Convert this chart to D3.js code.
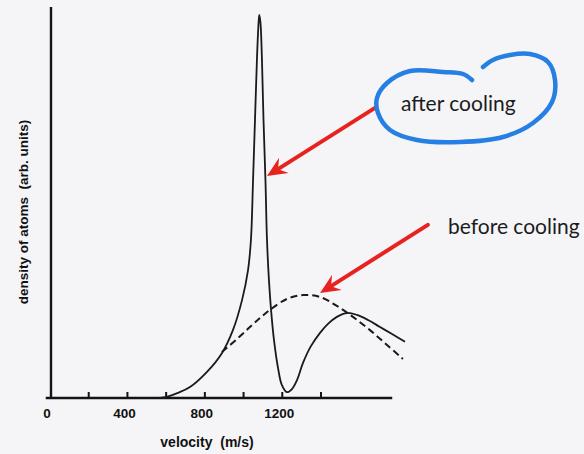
<!DOCTYPE html>
<html>
<head>
<meta charset="utf-8">
<script src="https://cdn.jsdelivr.net/npm/d3@7"></script>
<style>
  html, body { margin: 0; padding: 0; background: #f5f5f7; }
  svg { display: block; }
  text { white-space: pre; }
</style>
</head>
<body>
<svg id="chart" width="584" height="454"></svg>
<script>
// ---- data ----
const afterVelocity = [568, 604, 661, 723, 811, 888, 945, 992, 1023, 1038, 1049, 1059, 1069, 1076, 1081, 1087, 1095, 1103, 1113, 1121, 1131, 1142, 1157, 1178, 1198, 1224, 1250, 1276, 1307, 1348, 1395, 1436, 1482, 1534, 1586, 1643, 1705, 1767, 1834];
const afterDensity  = [0, 0.3, 1.3, 2.8, 6.7, 11.5, 17.4, 25.1, 32.8, 40.5, 55.9, 71.3, 86.7, 94.9, 98.2, 96.4, 86.7, 71.3, 55.9, 40.5, 30.3, 22.6, 14.9, 7.7, 3.3, 1.5, 2.3, 4.6, 9.0, 13.3, 16.7, 19.0, 20.8, 21.8, 21.3, 20.0, 18.2, 16.4, 14.4];
const beforeVelocity = [888, 961, 1033, 1085, 1136, 1224, 1307, 1395, 1482, 1565, 1653, 1741, 1823];
const beforeDensity  = [11.8, 14.9, 18.2, 20.5, 22.6, 25.4, 26.4, 25.9, 23.6, 20.8, 17.4, 13.6, 10.0];
const tickValues = [200, 400, 600, 800, 1000, 1200, 1400];
const tickLabels = [0, 400, 800, 1200];
const xTitle = "velocity  (m/s)";
const yTitle = "density of atoms  (arb. units)";
const labelAfter = "after cooling";
const labelBefore = "before cooling";

// ---- scales ----
const svg = d3.select("#chart");
const x = d3.scaleLinear().domain([0, 1400]).range([50, 321]);
const y = d3.scaleLinear().domain([0, 100]).range([398, 8]);

// ---- axes ----
const axisColor = "#141414";
const axisFont = "'Liberation Sans', Arial, Helvetica, sans-serif";
svg.append("line")
  .attr("x1", x(0) + 1).attr("x2", x(0) + 1)
  .attr("y1", y(100) - 1).attr("y2", y(0) + 1)
  .attr("stroke", axisColor).attr("stroke-width", 2.4);
svg.append("line")
  .attr("x1", x(-22)).attr("x2", x(1768))
  .attr("y1", y(0)).attr("y2", y(0))
  .attr("stroke", axisColor).attr("stroke-width", 2.6);
svg.append("g").selectAll("line").data(tickValues).join("line")
  .attr("x1", d => x(d)).attr("x2", d => x(d))
  .attr("y1", y(0)).attr("y2", y(0) - 6)
  .attr("stroke", axisColor).attr("stroke-width", 2);
svg.append("g").selectAll("text").data(tickLabels).join("text")
  .attr("x", d => x(d) - 3).attr("y", 418)
  .attr("text-anchor", "middle")
  .attr("font-family", axisFont)
  .attr("font-weight", "bold").attr("font-size", 13.5)
  .attr("fill", "#111")
  .text(d => d);
svg.append("text")
  .attr("x", 207).attr("y", 447)
  .attr("text-anchor", "middle")
  .attr("font-family", axisFont)
  .attr("font-weight", "bold").attr("font-size", 14)
  .attr("fill", "#111")
  .text(xTitle);
svg.append("text")
  .attr("transform", "translate(28,212) rotate(-90)")
  .attr("text-anchor", "middle")
  .attr("font-family", axisFont)
  .attr("font-weight", "bold").attr("font-size", 13.5)
  .attr("fill", "#111")
  .text(yTitle);

// ---- curves ----
const line = d3.line().x(d => x(d[0])).y(d => y(d[1])).curve(d3.curveCatmullRom.alpha(0.5));
svg.append("path")
  .datum(beforeVelocity.map((v, i) => [v, beforeDensity[i]]))
  .attr("d", line)
  .attr("fill", "none").attr("stroke", "#1a1a1a")
  .attr("stroke-width", 2).attr("stroke-dasharray", "7,4");
svg.append("path")
  .datum(afterVelocity.map((v, i) => [v, afterDensity[i]]))
  .attr("d", line)
  .attr("fill", "none").attr("stroke", "#1a1a1a")
  .attr("stroke-width", 1.8).attr("stroke-linejoin", "round");

// ---- annotations ----
const red = "#e8231f";
function arrow(tail, tip) {
  const x0 = x(tail[0]), y0 = y(tail[1]), x1 = x(tip[0]), y1 = y(tip[1]);
  const ang = Math.atan2(y1 - y0, x1 - x0);
  const len = 20, half = 9, notch = 13;
  const ux = Math.cos(ang), uy = Math.sin(ang), px = -uy, py = ux;
  const bx = x1 - ux * len, by = y1 - uy * len;
  const nx = x1 - ux * notch, ny = y1 - uy * notch;
  svg.append("line")
    .attr("x1", x0).attr("y1", y0).attr("x2", nx).attr("y2", ny)
    .attr("stroke", red).attr("stroke-width", 4).attr("stroke-linecap", "round");
  svg.append("path")
    .attr("d", `M${x1},${y1} L${bx + px * half},${by + py * half} L${nx},${ny} L${bx - px * half},${by - py * half} Z`)
    .attr("fill", red);
}
arrow([1679, 74.4], [1121, 56.9]);
arrow([1952, 44.4], [1395, 26.9]);

// hand-drawn loop round "after cooling" (offsets from the label start)
const ax = 401, ay = 111;
const loop = [[71, -31], [62, -37], [42, -39], [9, -40], [-14, -28], [-24, -13], [-23, 2], [-11, 19], [16, 29], [59, 31], [102, 26], [132, 12], [151, -9], [154, -31], [147, -49], [129, -57], [109, -56], [92, -51], [82, -44]];
svg.append("path")
  .attr("d", d3.line().curve(d3.curveCatmullRom)(loop.map(p => [ax + p[0], ay + p[1]])))
  .attr("fill", "none").attr("stroke", "#2680e3")
  .attr("stroke-width", 4.5).attr("stroke-linecap", "round");

svg.append("text")
  .attr("x", ax).attr("y", ay)
  .attr("font-family", "Lato, 'Open Sans', sans-serif")
  .attr("font-size", 21).attr("fill", "#1c1c1c")
  .text(labelAfter);
svg.append("text")
  .attr("x", 448).attr("y", 234)
  .attr("font-family", "Lato, 'Open Sans', sans-serif")
  .attr("font-size", 21).attr("fill", "#1c1c1c")
  .text(labelBefore);
</script>
</body>
</html>
